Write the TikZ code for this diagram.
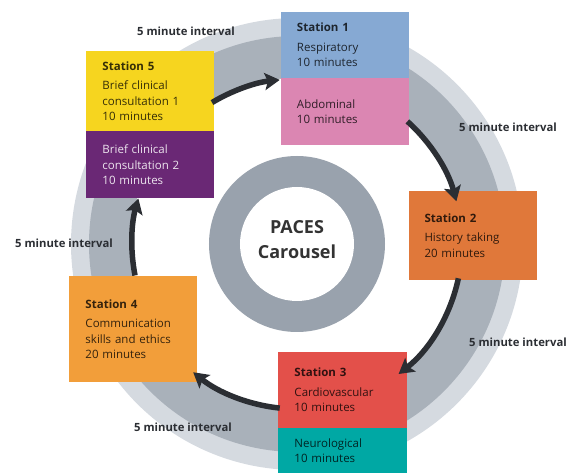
\documentclass[tikz,border=0pt]{standalone}
\usepackage{fontspec}
\setmainfont{Open Sans}
\usetikzlibrary{positioning,arrows.meta}

\definecolor{ringlight}{HTML}{D5DAE0}
\definecolor{ringdark}{HTML}{A9B1BA}
\definecolor{hubgrey}{HTML}{99A2AD}
\definecolor{arrowgrey}{HTML}{2B2E33}
\definecolor{resp}{HTML}{86A9D3}
\definecolor{abdo}{HTML}{DB86B2}
\definecolor{hist}{HTML}{E0783A}
\definecolor{cardio}{HTML}{E3504A}
\definecolor{neuro}{HTML}{00A8A4}
\definecolor{comm}{HTML}{F29E3A}
\definecolor{briefa}{HTML}{F6D51F}
\definecolor{briefb}{HTML}{6A2875}

\begin{document}
\begin{tikzpicture}[
    x=1pt, y=1pt,
    every node/.style={font=\fontsize{11.5}{15.5}\selectfont},
    stn/.style={rectangle, align=left, text width=96pt, inner xsep=16pt,
        inner ysep=0pt, minimum width=128pt,
        text=black, text opacity=0.78},
    gap/.style={font=\bfseries\fontsize{11.3}{12}\selectfont, text=arrowgrey},
    flow/.style={line width=5.5pt, draw=arrowgrey, ->},
    >={Stealth[length=15pt, width=17pt, inset=3pt]},
]
\useasboundingbox (-297,-229) rectangle (276,244);

% Rings behind everything
\fill[ringlight] (0,0) circle (226pt);
\fill[ringdark] (0,0) circle (208pt);
\fill[white] (0,0) circle (166pt);
\fill[hubgrey] (0,0) circle (88pt);
\fill[white] (0,0) circle (57pt);
\node[font=\bfseries\fontsize{18}{25}\selectfont, align=center, text=black!80] (hub) at (0,4) {PACES\\Carousel};

% Stations
\node[stn, fill=resp, minimum height=66pt] (s1) at (48,199) {\textbf{Station 1}\\[4pt]Respiratory\\10 minutes};
\node[stn, fill=abdo, minimum height=67pt, below=0pt of s1] (s1b) {Abdominal\\10 minutes};
\node[stn, fill=hist, minimum height=89pt] (s2) at (175.5,8.5) {\textbf{Station 2}\\[4pt]History taking\\20 minutes};
\node[stn, fill=cardio, minimum height=76pt] (s3) at (45.5,-146) {\textbf{Station 3}\\[4pt]Cardiovascular\\10 minutes};
\node[stn, fill=neuro, minimum height=45pt, below=0pt of s3] (s3b) {Neurological\\10 minutes};
\node[stn, fill=comm, minimum height=106pt] (s4) at (-163.5,-85) {\textbf{Station 4}\\[4pt]Communication\\skills and ethics\\20 minutes};
\node[stn, fill=briefa, minimum height=80pt] (s5) at (-146.5,153) {\textbf{Station 5}\\[4pt]Brief clinical\\consultation 1\\10 minutes};
\node[stn, fill=briefb, minimum height=67pt, below=0pt of s5, text=white, text opacity=0.88] (s5b) {Brief clinical\\consultation 2\\10 minutes};

% Arcs between stations, clockwise
\foreach \n/\a/\b in {1/121/96, 2/48/15, 3/-12/-52, 4/-96/-129, 5/191/164} {
    \coordinate (f\n) at (\a:165);
    \draw[flow] (f\n) arc[start angle=\a, end angle=\b, radius=165pt];
}

% Interval labels
\node[gap] (g51) at (-111,213) {5 minute interval};
\node[gap] (g12) at (211,117) {5 minute interval};
\node[gap] (g23) at (221,-98) {5 minute interval};
\node[gap] (g34) at (-114,-183) {5 minute interval};
\node[gap] (g45) at (-233,1) {5 minute interval};

\end{tikzpicture}
\end{document}
